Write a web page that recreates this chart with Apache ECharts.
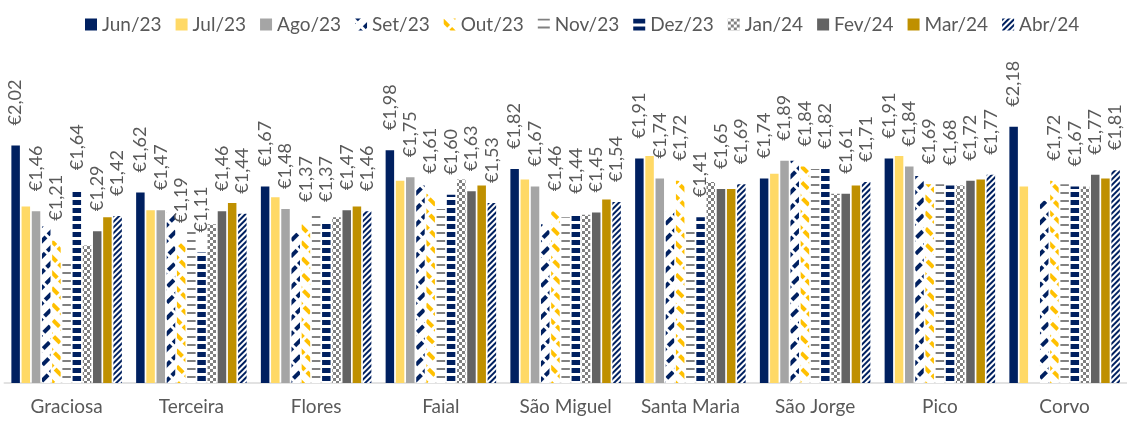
<!DOCTYPE html>
<html>
<head>
<meta charset="utf-8">
<script src="https://cdn.jsdelivr.net/npm/echarts@6/dist/echarts.min.js"></script>
<style>html,body{margin:0;padding:0;background:#fff}#c{width:1127px;height:421px}</style>
</head>
<body>
<div id="c"></div>
<script>
const categories = ['Graciosa','Terceira','Flores','Faial','São Miguel','Santa Maria','São Jorge','Pico','Corvo'];
const seriesNames = ['Jun/23','Jul/23','Ago/23','Set/23','Out/23','Nov/23','Dez/23','Jan/24','Fev/24','Mar/24','Abr/24'];
const jun23 = [2.02, 1.62, 1.67, 1.98, 1.82, 1.91, 1.74, 1.91, 2.18];
const jul23 = [1.50, 1.47, 1.58, 1.72, 1.73, 1.93, 1.78, 1.93, 1.67];
const ago23 = [1.46, 1.47, 1.48, 1.75, 1.67, 1.74, 1.89, 1.84, null];
const set23 = [1.33, 1.45, 1.28, 1.68, 1.35, 1.46, 1.89, 1.76, 1.55];
const out23 = [1.21, 1.19, 1.37, 1.61, 1.46, 1.72, 1.84, 1.69, 1.72];
const nov23 = [1.04, 1.33, 1.47, 1.48, 1.41, 1.32, 1.82, 1.69, 1.69];
const dez23 = [1.64, 1.11, 1.37, 1.60, 1.44, 1.41, 1.82, 1.68, 1.67];
const jan24 = [1.17, 1.35, 1.41, 1.73, 1.43, 1.71, 1.61, 1.68, 1.67];
const fev24 = [1.29, 1.46, 1.47, 1.63, 1.45, 1.65, 1.61, 1.72, 1.77];
const mar24 = [1.41, 1.53, 1.50, 1.68, 1.56, 1.65, 1.68, 1.73, 1.74];
const abr24 = [1.42, 1.44, 1.46, 1.53, 1.54, 1.69, 1.71, 1.77, 1.81];
const allData = [jun23, jul23, ago23, set23, out23, nov23, dez23, jan24, fev24, mar24, abr24];
const labelled = [true, false, true, false, true, false, true, false, true, false, true];

const NAVY = '#002060';
const styles = [
  {color: NAVY},
  {color: '#FFD966'},
  {color: '#A5A5A5'},
  {color: '#ffffff', decal: {symbol:'rect', symbolSize:1, symbolKeepAspect:false, color: NAVY, dashArrayX:[[9,3]], dashArrayY:[4,7], rotation:-Math.PI/4}},
  {color: '#ffffff', decal: {symbol:'rect', symbolSize:1, symbolKeepAspect:false, color: '#FFC000', dashArrayX:[[9,3]], dashArrayY:[4,7], rotation:Math.PI/4}},
  {color: '#ffffff', decal: {symbol:'rect', symbolSize:1, symbolKeepAspect:false, color: '#808080', dashArrayX:[[1,0]], dashArrayY:[2,6], rotation:0}},
  {color: '#ffffff', decal: {symbol:'rect', symbolSize:1, symbolKeepAspect:false, color: NAVY, dashArrayX:[[1,0]], dashArrayY:[5,3], rotation:0}},
  {color: '#ffffff', decal: {symbol:'rect', symbolSize:1, symbolKeepAspect:false, color: '#808080', dashArrayX:[[3,3],[0,3,3,0]], dashArrayY:[3,0], rotation:0}},
  {color: '#636363'},
  {color: '#BF9000'},
  {color: '#ffffff', decal: {symbol:'rect', symbolSize:1, symbolKeepAspect:false, color: NAVY, dashArrayX:[[1,0]], dashArrayY:[2,2], rotation:-Math.PI/4}}
];

const FONT = 'Lato';
const series = seriesNames.map((name, i) => ({
  name: name,
  type: 'bar',
  data: allData[i],
  barWidth: 8.5,
  barGap: '20%',
  itemStyle: styles[i],
  label: {
    show: labelled[i],
    position: 'top',
    distance: 20,
    rotate: 90,
    align: 'left',
    verticalAlign: 'middle',
    color: '#595959',
    fontFamily: FONT,
    fontSize: 18,
    formatter: p => '€' + p.value.toFixed(2).replace('.', ',')
  }
}));

const chart = echarts.init(document.getElementById('c'));
chart.setOption({
  animation: false,
  legend: {
    data: seriesNames,
    left: 80,
    top: 10,
    icon: 'rect',
    itemWidth: 12,
    itemHeight: 12,
    itemGap: 14,
    textStyle: {color: '#595959', fontFamily: FONT, fontSize: 19}
  },
  grid: {left: 4.25, right: -6.75, top: 89, bottom: 38},
  xAxis: {
    type: 'category',
    data: categories,
    axisLine: {lineStyle: {color: '#D9D9D9', width: 1.5}},
    axisTick: {show: false},
    axisLabel: {color: '#595959', fontFamily: FONT, fontSize: 19, margin: 14, interval: 0}
  },
  yAxis: {
    type: 'value',
    min: 0,
    max: 2.5,
    show: false,
    splitLine: {show: false}
  },
  series: series
});
</script>
</body>
</html>
